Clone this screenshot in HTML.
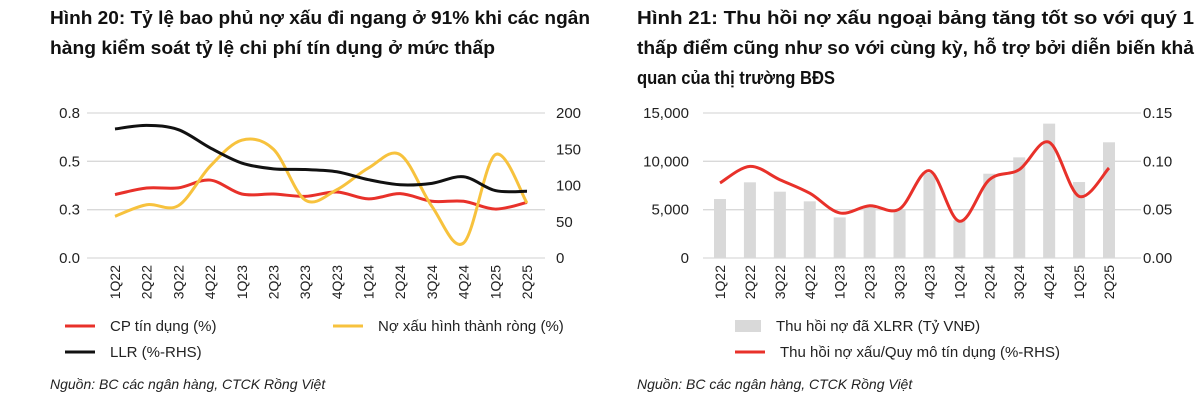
<!DOCTYPE html>
<html><head><meta charset="utf-8"><style>
body{margin:0;background:#fff;width:1200px;height:407px;overflow:hidden;font-family:"Liberation Sans",sans-serif;}
svg{position:absolute;left:0;top:0}
</style></head><body>
<svg id="c" width="1200" height="407" font-family="Liberation Sans, sans-serif">
<g font-weight="bold" font-size="18" fill="#111">
<text x="50" y="24" textLength="540" lengthAdjust="spacingAndGlyphs">Hình 20: Tỷ lệ bao phủ nợ xấu đi ngang ở 91% khi các ngân</text>
<text x="50" y="54" textLength="445" lengthAdjust="spacingAndGlyphs">hàng kiểm soát tỷ lệ chi phí tín dụng ở mức thấp</text>
</g>
<g font-weight="bold" font-size="18" fill="#111">
<text x="637" y="24" textLength="557" lengthAdjust="spacingAndGlyphs">Hình 21: Thu hồi nợ xấu ngoại bảng tăng tốt so với quý 1</text>
<text x="637" y="54" textLength="557" lengthAdjust="spacingAndGlyphs">thấp điểm cũng như so với cùng kỳ, hỗ trợ bởi diễn biến khả</text>
<text x="637" y="84" textLength="198" lengthAdjust="spacingAndGlyphs">quan của thị trường BĐS</text>
</g>
</svg>
<script>
const cats=["1Q22","2Q22","3Q22","4Q22","1Q23","2Q23","3Q23","4Q23","1Q24","2Q24","3Q24","4Q24","1Q25","2Q25"];
const cpVals=[0.35,0.386,0.387,0.43,0.353,0.353,0.34,0.364,0.326,0.355,0.313,0.313,0.27,0.307];
const nplVals=[0.23,0.294,0.289,0.506,0.65,0.6,0.32,0.377,0.497,0.57,0.285,0.083,0.57,0.303];
const llrVals=[178,183,177,152,131,123,122,119,108,101,103,112,93,92];
const leftTicks=["0.0","0.3","0.5","0.8"];
const leftRhsTicks=["0","50","100","150","200"];
const recVals=[6100,7830,6860,5860,4200,5340,5070,8800,3900,8720,10410,13900,7860,11970];
const ratioVals=[0.0776,0.0948,0.081,0.067,0.0466,0.054,0.0507,0.0903,0.038,0.081,0.0914,0.1197,0.0638,0.0931];
const rightTicks=["0","5,000","10,000","15,000"];
const rightRhsTicks=["0.00","0.05","0.10","0.15"];
const NS="http://www.w3.org/2000/svg",svg=document.getElementById('c');
function el(t,a,txt){const e=document.createElementNS(NS,t);for(const k in a)e.setAttribute(k,a[k]);if(txt!=null)e.textContent=txt;svg.appendChild(e);return e;}
function smooth(pts){let d=`M${pts[0][0]},${pts[0][1]}`;for(let i=0;i<pts.length-1;i++){const p0=pts[i-1]||pts[i],p1=pts[i],p2=pts[i+1],p3=pts[i+2]||p2;const c1=[p1[0]+(p2[0]-p0[0])/6,p1[1]+(p2[1]-p0[1])/6],c2=[p2[0]-(p3[0]-p1[0])/6,p2[1]-(p3[1]-p1[1])/6];d+=`C${c1[0]},${c1[1]} ${c2[0]},${c2[1]} ${p2[0]},${p2[1]}`;}return d;}
const TOP=113,BOT=258;
const lx=i=>115+i*(527-115)/(cats.length-1), ly=v=>BOT-v/0.8*(BOT-TOP), lyr=v=>BOT-v/200*(BOT-TOP);
leftTicks.forEach((t,i)=>{const y=BOT-i*(BOT-TOP)/3;let g=el('line',{x1:87,x2:545,y1:y,y2:y,stroke:'#d9d9d9','stroke-width':1.3});
let e=el('text',{x:80,y:y+5,'text-anchor':'end','font-size':15,fill:'#222'},t);});
leftRhsTicks.forEach((t,i)=>{const y=BOT-i*(BOT-TOP)/4;let e=el('text',{x:556,y:y+5,'font-size':15,fill:'#222'},t);});
cats.forEach((c,i)=>{let e=el('text',{transform:`translate(${lx(i)+5},${265}) rotate(-90)`,'text-anchor':'end','font-size':14,fill:'#222'},c);});
[[cpVals,ly,'#e8312a','cp-line'],[nplVals,ly,'#f7c23d','npl-line'],[llrVals,lyr,'#111','llr-line']].forEach(([a,f,col,n])=>{let p=el('path',{d:smooth(a.map((v,i)=>[lx(i),f(v)])),fill:'none',stroke:col,'stroke-width':3});});
const rx=i=>720+i*(1109-720)/(cats.length-1), ry=v=>BOT-v/15000*(BOT-TOP), ryr=v=>BOT-v/0.15*(BOT-TOP);
rightTicks.forEach((t,i)=>{const y=BOT-i*(BOT-TOP)/3;let g=el('line',{x1:703,x2:1141,y1:y,y2:y,stroke:'#d9d9d9','stroke-width':1.3});
let e=el('text',{x:689,y:y+5,'text-anchor':'end','font-size':15,fill:'#222'},t);
let r=el('text',{x:1143,y:y+5,'font-size':15,fill:'#222'},rightRhsTicks[i]);});
recVals.forEach((v,i)=>{let b=el('rect',{x:rx(i)-6,y:ry(v),width:12,height:BOT-ry(v),fill:'#d9d9d9'});});
cats.forEach((c,i)=>{let e=el('text',{transform:`translate(${rx(i)+5},${265}) rotate(-90)`,'text-anchor':'end','font-size':14,fill:'#222'},c);});
let rp=el('path',{d:smooth(ratioVals.map((v,i)=>[rx(i),ryr(v)])),fill:'none',stroke:'#e8312a','stroke-width':3});
function leg(x,y,col,txt,box){let s=box?el('rect',{x:x,y:y-6,width:26,height:12,fill:col}):el('line',{x1:x,x2:x+30,y1:y,y2:y,stroke:col,'stroke-width':3});
let t=el('text',{x:x+(box?41:45),y:y+5,'font-size':15,fill:'#222'},txt);}
leg(65,326,'#e8312a','CP tín dụng (%)');leg(333,326,'#f7c23d','Nợ xấu hình thành ròng (%)');leg(65,352,'#111','LLR (%-RHS)');
leg(735,326,'#d9d9d9','Thu hồi nợ đã XLRR (Tỷ VNĐ)',true);leg(735,352,'#e8312a','Thu hồi nợ xấu/Quy mô tín dụng (%-RHS)');
let s1=el('text',{x:50,y:389,'font-size':14,'font-style':'italic',fill:'#222'},'Nguồn: BC các ngân hàng, CTCK Rồng Việt');
let s2=el('text',{x:637,y:389,'font-size':14,'font-style':'italic',fill:'#222'},'Nguồn: BC các ngân hàng, CTCK Rồng Việt');
</script>
</body></html>
